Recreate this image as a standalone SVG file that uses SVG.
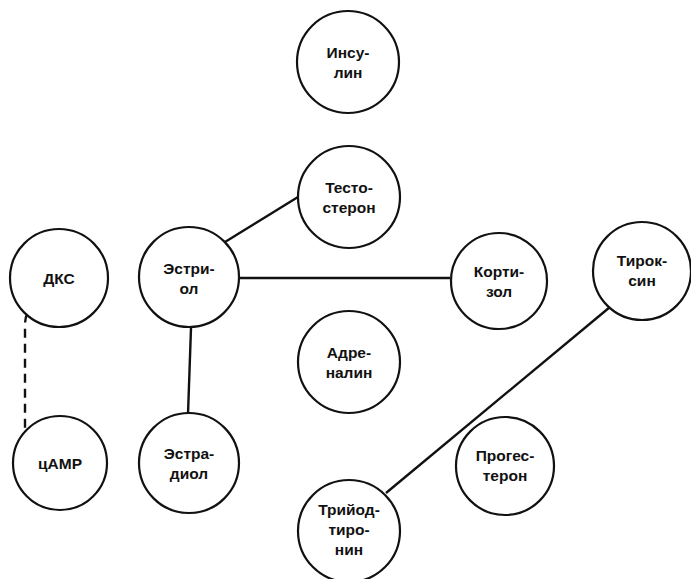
<svg xmlns="http://www.w3.org/2000/svg" width="691" height="579" viewBox="0 0 691 579">
<style>
circle{fill:#fff;stroke:#111;stroke-width:2.2}
text{font-family:"Liberation Sans",Arial,sans-serif;font-weight:bold;font-size:15.5px;fill:#111;text-anchor:middle}
.e{stroke:#111;stroke-width:2.4;fill:none}
.d{stroke-dasharray:9 6}
</style>
<rect width="691" height="579" fill="#fff"/>
<g id="connectors">
<line class="e" x1="225" y1="242" x2="298" y2="197"/>
<line class="e" x1="239" y1="278" x2="450" y2="278"/>
<line class="e" x1="191" y1="328" x2="188" y2="414"/>
<line class="e" x1="610" y1="307" x2="386" y2="493"/>
<path class="e d" d="M27 314 Q25 318 25 326 L25 428"/>
</g>
<g id="n-insulin"><circle cx="348" cy="62" r="51"/><text x="348" y="58">Инсу-</text><text x="348" y="78">лин</text></g>
<g id="n-testosterone"><circle cx="349" cy="197" r="51"/><text x="349" y="193">Тесто-</text><text x="349" y="213">стерон</text></g>
<g id="n-dks"><circle cx="59" cy="278" r="49"/><text x="59" y="284">ДКС</text></g>
<g id="n-estriol"><circle cx="189" cy="277" r="50"/><text x="189" y="274">Эстри-</text><text x="189" y="294">ол</text></g>
<g id="n-cortisol"><circle cx="499" cy="281" r="48"/><text x="499" y="277">Корти-</text><text x="499" y="297">зол</text></g>
<g id="n-thyroxine"><circle cx="642" cy="271" r="49"/><text x="642" y="266">Тирок-</text><text x="642" y="286">син</text></g>
<g id="n-adrenaline"><circle cx="349" cy="362" r="51"/><text x="349" y="358">Адре-</text><text x="349" y="378">налин</text></g>
<g id="n-camp"><circle cx="60" cy="463" r="47"/><text x="60" y="469">цАМР</text></g>
<g id="n-estradiol"><circle cx="189" cy="463" r="50"/><text x="189" y="459">Эстра-</text><text x="189" y="479">диол</text></g>
<g id="n-progesterone"><circle cx="505" cy="466" r="49"/><text x="505" y="461">Прогес-</text><text x="505" y="481">терон</text></g>
<g id="n-triiodothyronine"><circle cx="349" cy="531" r="51"/><text x="349" y="515">Трийод-</text><text x="349" y="535">тиро-</text><text x="349" y="555">нин</text></g>
</svg>
